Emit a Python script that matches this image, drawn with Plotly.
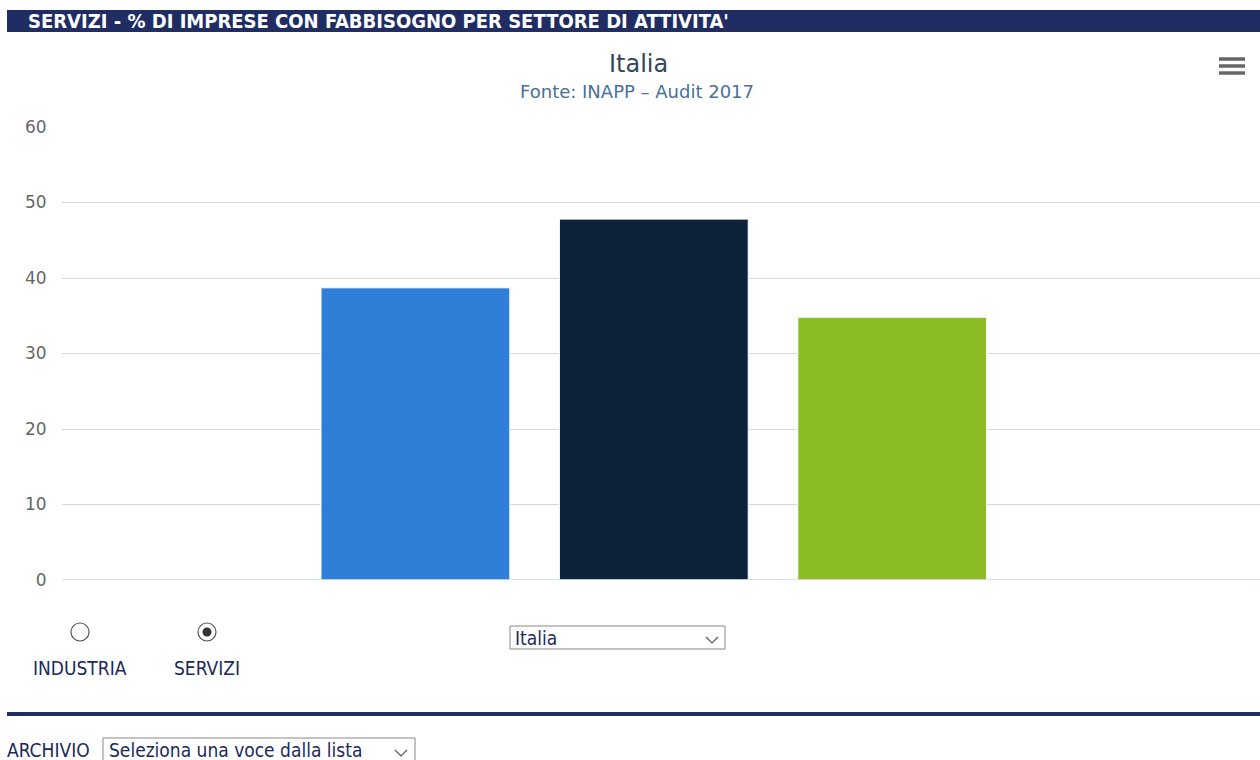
import plotly.graph_objects as go

# ---- data ----
category = ["Italia"]
series_names = ["Serie 1", "Serie 2", "Serie 3"]
series_values = [38.7, 47.8, 34.8]
series_colors = ["#2f7ed8", "#0d233a", "#8bbc21"]
y_ticks = [0, 10, 20, 30, 40, 50, 60]

W, H = 1260, 760
L, R, T, B = 62, 0, 127, 180
PW, PH = W - L - R, H - T - B

def px(x):
    return (x - L) / PW

def py(y):
    return (H - B - y) / PH

NAVY = "#1f2d63"
TEXTNAVY = "#1c2a5a"

fig = go.Figure()
for name, val, col in zip(series_names, series_values, series_colors):
    fig.add_trace(go.Bar(x=category, y=[val], name=name,
                         marker=dict(color=col, line=dict(color="white", width=1))))

shapes = []
annotations = []

# header bar
shapes.append(dict(type="rect", xref="paper", yref="paper",
                   x0=px(7), x1=px(1260), y0=py(32), y1=py(10),
                   fillcolor=NAVY, line=dict(width=0), layer="above"))
annotations.append(dict(xref="paper", yref="paper", x=px(26), y=py(21),
                        xanchor="left", yanchor="middle", showarrow=False,
                        text="<b>SERVIZI - % DI IMPRESE CON FABBISOGNO PER SETTORE DI ATTIVITA'</b>",
                        font=dict(family="Liberation Sans Narrow, DejaVu Sans Condensed, Arial Narrow, sans-serif",
                                  size=20, color="white")))
# titles
annotations.append(dict(xref="paper", yref="paper", x=px(638), y=py(64),
                        xanchor="center", yanchor="middle", showarrow=False,
                        text="Italia",
                        font=dict(family="DejaVu Sans, Verdana, sans-serif", size=24, color="#33475b")))
annotations.append(dict(xref="paper", yref="paper", x=px(637), y=py(91),
                        xanchor="center", yanchor="middle", showarrow=False,
                        text="Fonte: INAPP \u2013 Audit 2017",
                        font=dict(family="DejaVu Sans, Verdana, sans-serif", size=18, color="#4a6f9a")))
# hamburger
for yy in (59, 66, 73):
    shapes.append(dict(type="line", xref="paper", yref="paper",
                       x0=px(1219), x1=px(1245), y0=py(yy), y1=py(yy),
                       line=dict(color="#666666", width=3.5)))

# radio buttons
shapes.append(dict(type="circle", xref="paper", yref="paper",
                   x0=px(71), x1=px(89), y0=py(641), y1=py(623),
                   line=dict(color="#555555", width=1.2), fillcolor="white"))
shapes.append(dict(type="circle", xref="paper", yref="paper",
                   x0=px(198), x1=px(216), y0=py(641), y1=py(623),
                   line=dict(color="#555555", width=1.2), fillcolor="white"))
shapes.append(dict(type="circle", xref="paper", yref="paper",
                   x0=px(202.5), x1=px(211.5), y0=py(636.5), y1=py(627.5),
                   line=dict(color="#333333", width=0), fillcolor="#333333"))
lab_font = dict(family="DejaVu Sans Condensed, Liberation Sans Narrow, sans-serif", size=19, color=TEXTNAVY)
annotations.append(dict(xref="paper", yref="paper", x=px(80), y=py(668),
                        xanchor="center", yanchor="middle", showarrow=False,
                        text="INDUSTRIA", font=lab_font))
annotations.append(dict(xref="paper", yref="paper", x=px(207), y=py(668),
                        xanchor="center", yanchor="middle", showarrow=False,
                        text="SERVIZI", font=lab_font))

# dropdown Italia
shapes.append(dict(type="rect", xref="paper", yref="paper",
                   x0=px(510), x1=px(725), y0=py(649), y1=py(626),
                   line=dict(color="#888888", width=1), fillcolor="white"))
annotations.append(dict(xref="paper", yref="paper", x=px(513), y=py(638),
                        xanchor="left", yanchor="middle", showarrow=False,
                        text="Italia", font=lab_font))

def chevron(cx, cy):
    return dict(type="path", xref="paper", yref="paper",
                path=f"M {px(cx-6)},{py(cy-3)} L {px(cx)},{py(cy+3)} L {px(cx+6)},{py(cy-3)}",
                line=dict(color="#555555", width=1.2))

shapes.append(chevron(712, 640))

# navy separator
shapes.append(dict(type="rect", xref="paper", yref="paper",
                   x0=px(7), x1=px(1260), y0=py(716), y1=py(712),
                   fillcolor=NAVY, line=dict(width=0)))

# archivio
annotations.append(dict(xref="paper", yref="paper", x=px(5), y=py(750),
                        xanchor="left", yanchor="middle", showarrow=False,
                        text="ARCHIVIO", font=lab_font))
shapes.append(dict(type="rect", xref="paper", yref="paper",
                   x0=px(103), x1=px(415), y0=py(764), y1=py(738),
                   line=dict(color="#888888", width=1), fillcolor="white"))
annotations.append(dict(xref="paper", yref="paper", x=px(107), y=py(750),
                        xanchor="left", yanchor="middle", showarrow=False,
                        text="Seleziona una voce dalla lista", font=lab_font))
shapes.append(chevron(401, 753))

fig.update_layout(
    width=W, height=H,
    margin=dict(l=L, r=R, t=T, b=B),
    paper_bgcolor="white", plot_bgcolor="white",
    showlegend=False,
    barmode="group", bargap=0.403, bargroupgap=0.208,
    font=dict(family="DejaVu Sans, Verdana, sans-serif"),
    xaxis=dict(range=[-0.494, 0.506], showticklabels=False, showgrid=False,
               zeroline=False, showline=False, fixedrange=True),
    yaxis=dict(range=[0, 60], tickvals=y_ticks, showgrid=True, gridcolor="#d8d8d8",
               gridwidth=1, zeroline=False, showline=False,
               ticks="outside", ticklen=11, tickcolor="rgba(0,0,0,0)",
               tickfont=dict(size=17, color="#666666", family="DejaVu Sans, Verdana, sans-serif"),
               automargin=False, fixedrange=True),
    shapes=shapes, annotations=annotations,
)
# baseline
fig.add_shape(type="line", xref="paper", yref="y", x0=0, x1=1, y0=0, y1=0,
              line=dict(color="#ccd6eb", width=1.5), layer="above")

fig.write_html("out.html", config={"displayModeBar": False})
